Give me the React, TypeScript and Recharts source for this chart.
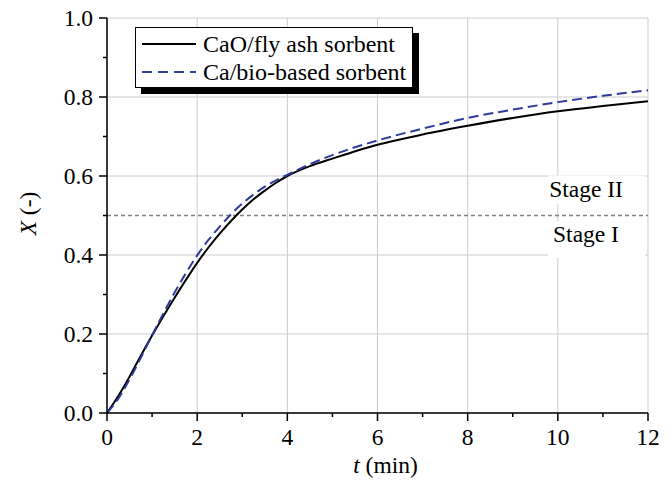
import React from 'react';
import {
  LineChart, Line, XAxis, YAxis, CartesianGrid, ReferenceLine, Legend,
} from 'recharts';

const timeMin = [0, 0.25, 0.5, 0.75, 1, 1.25, 1.5, 1.75, 2, 2.25, 2.5, 2.75, 3, 3.25, 3.5, 3.75, 4, 4.5, 5, 6, 7, 8, 9, 10, 11, 12];
const flyAsh = [0, 0.043, 0.092, 0.145, 0.196, 0.245, 0.292, 0.337, 0.380, 0.419, 0.454, 0.486, 0.515, 0.541, 0.563, 0.583, 0.600, 0.625, 0.644, 0.679, 0.705, 0.727, 0.747, 0.764, 0.777, 0.789];
const bioBased = [0, 0.036, 0.085, 0.140, 0.197, 0.252, 0.305, 0.354, 0.399, 0.438, 0.472, 0.503, 0.530, 0.553, 0.573, 0.589, 0.603, 0.630, 0.653, 0.690, 0.720, 0.747, 0.768, 0.787, 0.803, 0.817];

const xTicks = [0, 1, 2, 3, 4, 5, 6, 7, 8, 9, 10, 11, 12];
const xMajor = [0, 2, 4, 6, 8, 10, 12];
const yTicks = [0, 0.1, 0.2, 0.3, 0.4, 0.5, 0.6, 0.7, 0.8, 0.9, 1.0];
const yMajor = [0, 0.2, 0.4, 0.6, 0.8, 1.0];
const stageLevel = 0.5;
const seriesNames = ['CaO/fly ash sorbent', 'Ca/bio-based sorbent'];
const stageLabels = ['Stage II', 'Stage I'];

const data = timeMin.map((t, i) => ({ t, a: flyAsh[i], b: bioBased[i] }));

const FONT = '"Liberation Serif", "Times New Roman", serif';
const FS = 23.5;
const BLUE = '#2e3b9c';

const isMajor = (v: number, arr: number[]) => arr.some((m) => Math.abs(m - v) < 1e-9);

const BottomTick = (props: any) => {
  const { x, y, payload } = props;
  const major = isMajor(payload.value, xMajor);
  return (
    <g>
      <line x1={x} x2={x} y1={y} y2={y + (major ? 8 : 4)} stroke="#000" strokeWidth={1.5} />
      {major && (
        <text x={x} y={y + 32} textAnchor="middle" fontFamily={FONT} fontSize={FS} fill="#000">
          {payload.value}
        </text>
      )}
    </g>
  );
};

const TopTick = (props: any) => {
  const { x, y, payload } = props;
  const major = isMajor(payload.value, xMajor);
  return <line x1={x} x2={x} y1={y} y2={y + (major ? 8 : 4)} stroke="#000" strokeWidth={1.5} />;
};

const LeftTick = (props: any) => {
  const { x, y, payload } = props;
  const major = isMajor(payload.value, yMajor);
  return (
    <g>
      <line x1={x} x2={x - (major ? 8 : 4)} y1={y} y2={y} stroke="#000" strokeWidth={1.5} />
      {major && (
        <text x={x - 14} y={y + 8} textAnchor="end" fontFamily={FONT} fontSize={FS} fill="#000">
          {payload.value.toFixed(1)}
        </text>
      )}
    </g>
  );
};

const RightTick = (props: any) => {
  const { x, y, payload } = props;
  const major = isMajor(payload.value, yMajor);
  return <line x1={x} x2={x - (major ? 8 : 4)} y1={y} y2={y} stroke="#000" strokeWidth={1.5} />;
};

const StageLabel = (props: any) => {
  const vb = props.viewBox || {};
  const right = vb.x + vb.width;
  const cy = vb.y;
  const cx = right - 62;
  return (
    <g>
      <rect x={right - 100} y={cy - 40} width={97} height={28} fill="#fff" />
      <rect x={right - 100} y={cy + 6} width={97} height={36} fill="#fff" />
      <text x={cx} y={cy - 19} textAnchor="middle" fontFamily={FONT} fontSize={FS} fill="#000">{stageLabels[0]}</text>
      <text x={cx} y={cy + 26} textAnchor="middle" fontFamily={FONT} fontSize={FS} fill="#000">{stageLabels[1]}</text>
    </g>
  );
};

const LegendBox = () => (
  <div
    style={{
      boxSizing: 'border-box',
      width: 278,
      height: 61,
      background: '#fff',
      border: '1px solid #000',
      boxShadow: '6px 6px 0 #000',
      padding: '2px 6px',
      fontFamily: FONT,
      fontSize: 24,
      lineHeight: '28px',
      color: '#000',
      whiteSpace: 'nowrap',
    }}
  >
    {seriesNames.map((name, i) => (
      <div key={name} style={{ display: 'flex', alignItems: 'center' }}>
        <svg width={54} height={10} style={{ marginRight: 7, flex: 'none' }}>
          <line
            x1={0} x2={54} y1={5} y2={5}
            stroke={i === 0 ? '#000' : BLUE}
            strokeWidth={2}
            strokeDasharray={i === 0 ? undefined : '10 6'}
          />
        </svg>
        <span>{name}</span>
      </div>
    ))}
  </div>
);

const XLabel = (props: any) => {
  const vb = props.viewBox || {};
  return (
    <text x={vb.x + vb.width / 2 + 8} y={473} textAnchor="middle" fontFamily={FONT} fontSize={FS} fill="#000">
      <tspan fontStyle="italic">t</tspan>
      <tspan> (min)</tspan>
    </text>
  );
};

const YLabel = (props: any) => {
  const vb = props.viewBox || {};
  const cy = vb.y + vb.height / 2 - 2;
  return (
    <text x={36} y={cy} transform={`rotate(-90, 36, ${cy})`} textAnchor="middle" fontFamily={FONT} fontSize={FS} fill="#000">
      <tspan fontStyle="italic">X</tspan>
      <tspan> (-)</tspan>
    </text>
  );
};

export default function App() {
  return (
    <div style={{ position: 'absolute', left: 0, top: 0, width: 671, height: 480, background: '#fff' }}>
      <LineChart width={671} height={480} data={data} margin={{ top: 18, right: 23, left: 0, bottom: 0 }}>
        <CartesianGrid
          stroke="#cccccc"
          strokeWidth={1}
          verticalValues={xMajor}
          horizontalValues={yMajor}
        />
        <XAxis
          dataKey="t"
          type="number"
          domain={[0, 12]}
          ticks={xTicks}
          interval={0}
          height={67}
          tickSize={0}
          tickMargin={0}
          tickLine={false}
          axisLine={{ stroke: '#000', strokeWidth: 1.5 }}
          tick={<BottomTick />}
          label={<XLabel />}
        />
        <XAxis
          xAxisId="top"
          orientation="top"
          dataKey="t"
          type="number"
          domain={[0, 12]}
          ticks={xTicks}
          interval={0}
          height={0}
          tickSize={0}
          tickMargin={0}
          tickLine={false}
          axisLine={{ stroke: '#000', strokeWidth: 1.5 }}
          tick={<TopTick />}
        />
        <YAxis
          type="number"
          domain={[0, 1]}
          ticks={yTicks}
          interval={0}
          width={107}
          tickSize={0}
          tickMargin={0}
          tickLine={false}
          axisLine={{ stroke: '#000', strokeWidth: 1.5 }}
          tick={<LeftTick />}
          label={<YLabel />}
        />
        <YAxis
          yAxisId="right"
          orientation="right"
          type="number"
          domain={[0, 1]}
          ticks={yTicks}
          interval={0}
          width={0}
          tickSize={0}
          tickMargin={0}
          tickLine={false}
          axisLine={{ stroke: '#000', strokeWidth: 1.5 }}
          tick={<RightTick />}
        />
        <ReferenceLine
          y={stageLevel}
          stroke="#808080"
          strokeWidth={1.5}
          strokeDasharray="4 3"
          label={<StageLabel />}
        />
        <Line
          type="monotone"
          dataKey="a"
          name={seriesNames[0]}
          stroke="#000"
          strokeWidth={2}
          dot={false}
          isAnimationActive={false}
        />
        <Line
          type="monotone"
          dataKey="b"
          name={seriesNames[1]}
          stroke={BLUE}
          strokeWidth={2}
          strokeDasharray="10 5"
          dot={false}
          isAnimationActive={false}
        />
        <Legend
          layout="horizontal"
          verticalAlign="middle"
          align="center"
          content={<LegendBox />}
          wrapperStyle={{ position: 'absolute', left: 135, top: 27, width: 'auto' }}
        />
      </LineChart>
    </div>
  );
}
